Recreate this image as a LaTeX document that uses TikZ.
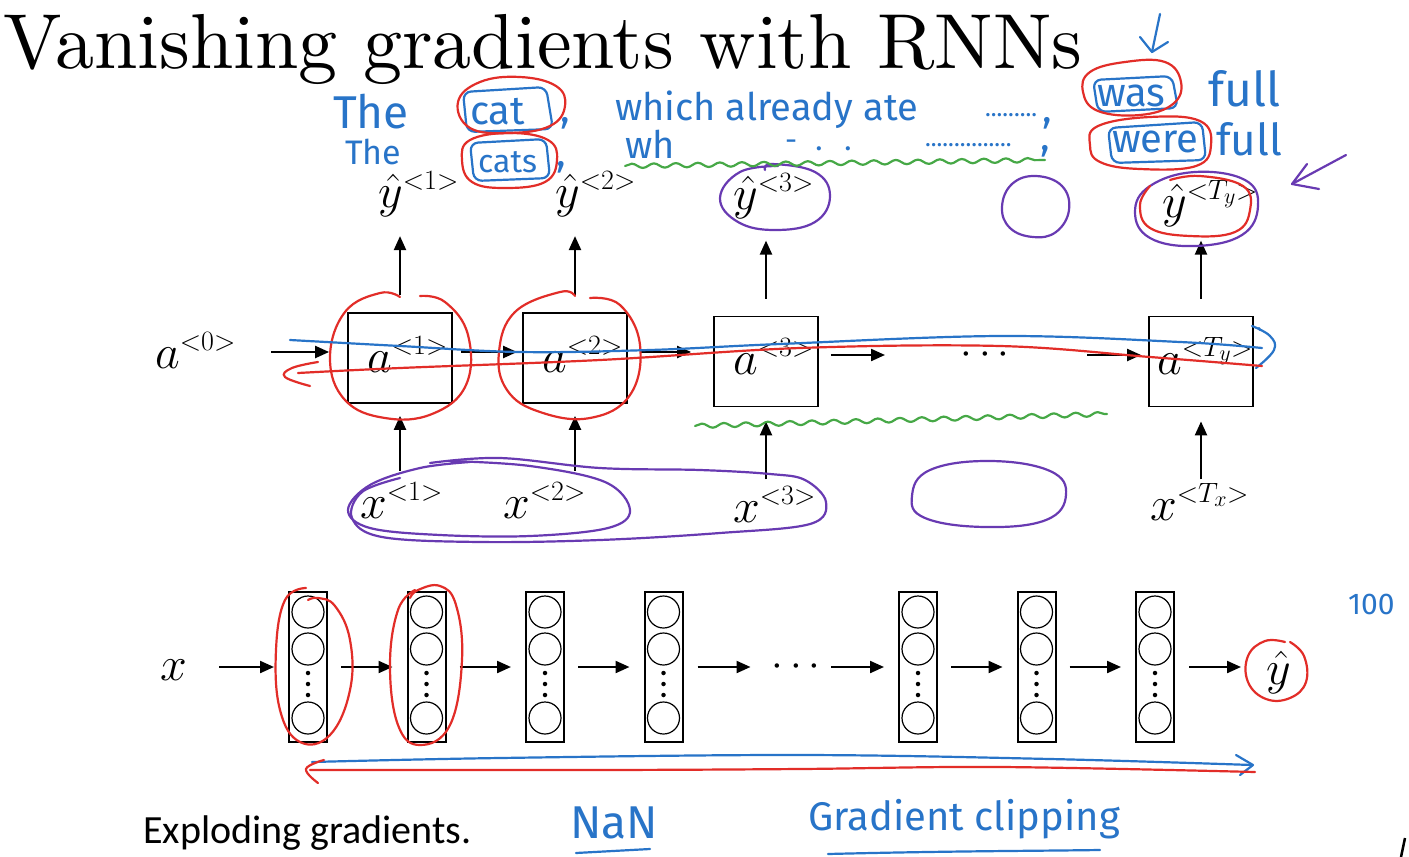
\documentclass[tikz,border=0pt]{standalone}
\usepackage{fix-cm}
\usepackage{fontspec}
\setmainfont{Latin Modern Roman}
\newfontfamily\titlefont{lmroman10-regular.otf}
\newfontfamily\handfont{Fira Sans}
\newfontfamily\calfont{Carlito}
\DeclareMathSizes{48}{48}{28}{22}
\usetikzlibrary{arrows.meta,decorations.pathmorphing,calc}
\definecolor{penblue}{RGB}{40,116,200}
\definecolor{penred}{RGB}{226,45,40}
\definecolor{penpurple}{RGB}{104,58,178}
\definecolor{pengreen}{RGB}{70,168,70}
\tikzset{
 rnnbox/.style={draw, line width=1.8pt, minimum width=104pt, minimum height=90pt, inner sep=0pt},
 colbox/.style={draw, line width=2pt, minimum width=38pt, minimum height=150pt, inner sep=0pt},
 neur/.style={circle, draw, line width=1.2pt, minimum size=32pt, inner sep=0pt},
 ndot/.style={circle, fill, minimum size=4.5pt, inner sep=0pt},
 arr/.style={line width=2.2pt, -{Triangle[length=14pt,width=12pt]}},
 lbl/.style={font=\fontsize{48}{52}\selectfont, inner sep=0pt, anchor=base west},
 pen/.style={line width=2.2pt, line cap=round, line join=round},
 bpen/.style={pen, draw=penblue},
 rpen/.style={pen, draw=penred},
 ppen/.style={pen, draw=penpurple},
 gpen/.style={pen, draw=pengreen, decorate, decoration={snake, amplitude=2.2pt, segment length=22pt}},
 hand/.style={text=penblue, inner sep=0pt, anchor=base west},
}
\newcommand{\hw}[1]{\handfont\fontsize{#1}{#1}\selectfont}
\begin{document}
\begin{tikzpicture}[x=1pt,y=-1pt]
\useasboundingbox (0,0) rectangle (1409,857);
\fill[white] (0,0) rectangle (1409,857);
\node[inner sep=0pt, anchor=base west, font=\titlefont\fontsize{78}{84}\selectfont] (title) at (3,68) {Vanishing gradients with RNNs};

% ---------- RNN top ----------
\node[rnnbox] (A1) at (400,358) {};
\node[rnnbox] (A2) at (575,358) {};
\node[rnnbox] (A3) at (766,361.5) {};
\node[rnnbox] (A4) at (1201,361.5) {};
\node[lbl] (a0) at (155,368) {$a^{<0>}$};
\node[lbl] (la1) at (367,372) {$a^{<1>}$};
\node[lbl] (la2) at (542,372) {$a^{<2>}$};
\node[lbl] (la3) at (733,374) {$a^{<3>}$};
\node[lbl] (la4) at (1157,374) {$a^{<T_y>}$};
\node[font=\fontsize{42}{48}\selectfont, inner sep=0pt] (tdots) at (985,355) {$\cdots$};

\node[lbl] (yh1) at (378,207) {$\hat{y}^{<1>}$};
\node[lbl] (yh2) at (555,207) {$\hat{y}^{<2>}$};
\node[lbl] (yh3) at (733,209) {$\hat{y}^{<3>}$};
\node[lbl] (yh4) at (1162,217) {$\hat{y}^{<T_y>}$};
\node[lbl] (x1) at (360,518) {$x^{<1>}$};
\node[lbl] (x2) at (503,518) {$x^{<2>}$};
\node[lbl] (x3) at (733,522) {$x^{<3>}$};
\node[lbl] (x4) at (1150,520) {$x^{<T_x>}$};

\draw[arr] ($(a0.east |- A1.west)+(35,-6)$) -- ($(A1.west)+(-18,-6)$);
\draw[arr] ($(A1.east)+(8,-6)$) -- ($(A2.west)+(-5,-6)$);
\draw[arr] ($(A2.east)+(13,-6)$) -- ($(A3.west |- A2.west)+(-22,-6)$);
\draw[arr] ($(A3.east)+(12,-6.5)$) -- ($(tdots)+(-100,0)$);
\draw[arr] ($(tdots)+(102,0)$) -- ($(A4.west)+(-7,-6.5)$);

\foreach \b in {A1,A2}{
  \draw[arr] ($(\b.north)+(0,-17)$) -- ($(\b.north)+(0,-76)$);
  \draw[arr] ($(\b.south)+(0,67)$) -- ($(\b.south)+(0,12)$);
}
\foreach \b in {A3,A4}{
  \draw[arr] ($(\b.north)+(0,-17)$) -- ($(\b.north)+(0,-75)$);
  \draw[arr] ($(\b.south)+(0,72)$) -- ($(\b.south)+(0,14)$);
}

% ---------- deep net bottom ----------
\foreach \n/\xx in {1/308,2/426.5,3/545,4/663.5,5/918,6/1036.5,7/1155}{
  \node[colbox] (C\n) at (\xx,667) {};
  \node[neur] (C\n a) at ($(C\n.north)+(0,21)$) {};
  \node[neur] (C\n b) at ($(C\n.north)+(0,58)$) {};
  \node[neur] (C\n c) at ($(C\n.north)+(0,127)$) {};
  \node[ndot] (C\n d1) at ($(C\n.north)+(0,82)$) {};
  \node[ndot] (C\n d2) at ($(C\n.north)+(0,93)$) {};
  \node[ndot] (C\n d3) at ($(C\n.north)+(0,104)$) {};
}
\node[lbl] (xb) at (160,680) {$x$};
\node[lbl] (yb) at (1266,684) {$\hat{y}$};
\node[font=\fontsize{42}{48}\selectfont, inner sep=0pt] (bdots) at (796,667) {$\cdots$};
\draw[arr] ($(C1.west)+(-69,0)$) -- ($(C1.west)+(-14,0)$);
\foreach \i/\j in {1/2,2/3,3/4,5/6,6/7}{
  \draw[arr] ($(C\i.east)+(13,0)$) -- ($(C\j.west)+(-14,0)$);
}
\draw[arr] ($(C4.east)+(14,0)$) -- ($(C4.east)+(67,0)$);
\draw[arr] ($(C5.west)+(-67,0)$) -- ($(C5.west)+(-14,0)$);
\draw[arr] ($(C7.east)+(14,0)$) -- ($(C7.east)+(66,0)$);

\node[inner sep=0pt, anchor=base west, font=\calfont\fontsize{40}{44}\selectfont] (expl) at (143,843) {Exploding gradients.};

% ---------- handwriting ----------
\node[hand, font=\hw{46}] (w1) at (333,128) {The};
\node[hand, font=\hw{40}] (w2) at (470,124) {cat};
\node[hand, font=\hw{40}] (w3) at (560,122) {,};
\node[hand, font=\hw{38}] (w4) at (615,120) {which already ate};
\node[hand, font=\hw{24}] (w5) at (985,116) {.........};
\node[hand, font=\hw{40}] (w6) at (1042,122) {,};
\node[hand, font=\hw{40}] (w7) at (1097,106) {was};
\node[hand, font=\hw{48}] (w8) at (1208,106) {full};
\node[hand, font=\hw{34}] (v1) at (345,164) {The};
\node[hand, font=\hw{32}] (v2) at (478,172) {cats};
\node[hand, font=\hw{40}] (v3) at (556,166) {,};
\node[hand, font=\hw{38}] (v4) at (625,158) {wh};
\node[hand, font=\hw{30}] (v5) at (785,150) {-\hspace{18pt}.\hspace{22pt}.};
\node[hand, font=\hw{24}] (v6) at (925,146) {...............};
\node[hand, font=\hw{40}] (v7) at (1040,150) {,};
\node[hand, font=\hw{40}] (v8) at (1112,152) {were};
\node[hand, font=\hw{44}] (v9) at (1216,155) {full};
\node[hand, font=\hw{30}] (h100) at (1348,614) {100};
\node[hand, font=\hw{46}] (nan) at (570,838) {NaN};
\node[hand, font=\hw{40}] (gc) at (808,830) {Gradient clipping};
\draw[bpen] (576,853) -- (650,849);
\draw[bpen] (828,854) .. controls (950,851) and (1030,851) .. (1100,850);

% boxes and circles around cat / cats / was / were
\draw[bpen, rounded corners=8pt] (463,92) -- (546,87) -- (553,129) -- (467,132) -- cycle;
\draw[rpen] plot[smooth cycle, tension=0.7] coordinates {(458,102) (480,82) (520,77) (556,86) (565,106) (550,126) (510,133) (470,128)};
\draw[bpen, rounded corners=8pt] (470,143) -- (546,139) -- (550,178) -- (474,181) -- cycle;
\draw[rpen] plot[smooth cycle, tension=0.7] coordinates {(462,160) (470,140) (510,133) (548,140) (557,160) (545,182) (505,188) (472,182)};
\draw[bpen, rounded corners=8pt] (1093,80) -- (1172,76) -- (1178,108) -- (1098,112) -- cycle;
\draw[rpen] plot[smooth cycle, tension=0.7] coordinates {(1083,92) (1090,72) (1125,62) (1165,62) (1181,82) (1173,104) (1140,115) (1098,111)};
\draw[bpen, rounded corners=8pt] (1108,128) -- (1202,122) -- (1206,160) -- (1112,163) -- cycle;
\draw[rpen] plot[smooth cycle, tension=0.7] coordinates {(1090,145) (1098,126) (1150,117) (1200,121) (1211,145) (1196,166) (1140,169) (1100,162)};

% arrows (handwritten)
\draw[bpen] (1160,14) -- (1152,52);
\draw[bpen] (1140,37) -- (1152,52) -- (1168,42);
\draw[ppen] (1346,155) -- (1292,184);
\draw[ppen] (1307,164) -- (1292,184) -- (1319,189);

% purple and red around outputs
\draw[ppen] plot[smooth, tension=0.7] coordinates {(778,166) (740,172) (720,198) (738,222) (775,230) (815,222) (830,196) (815,172) (772,164) (765,170)};
\draw[ppen] plot[smooth cycle, tension=0.7] coordinates {(1002,207) (1012,184) (1036,176) (1062,186) (1069,210) (1056,232) (1033,237) (1010,228)};
\draw[ppen] plot[smooth cycle, tension=0.7] coordinates {(1135,212) (1150,186) (1195,172) (1245,180) (1258,206) (1242,235) (1195,246) (1150,238)};
\draw[rpen] plot[smooth, tension=0.7] coordinates {(1150,186) (1140,205) (1150,228) (1190,236) (1235,232) (1250,210) (1243,186) (1200,176) (1170,180)};

% green wavy lines
\draw[gpen] (625,166) -- (1045,160);
\draw[gpen] (695,426) -- (1107,414);

% red circles around A1 and A2
\draw[rpen] plot[smooth, tension=0.7] coordinates {(420,296) (445,302) (468,335) (466,385) (432,414) (385,418) (345,400) (330,358) (345,312) (380,293) (400,297)};
\draw[rpen] plot[smooth, tension=0.7] coordinates {(590,298) (620,305) (640,345) (630,395) (590,418) (540,412) (507,390) (499,352) (515,312) (560,292) (575,296)};

% long blue / red lines through RNN
\draw[bpen] plot[smooth, tension=0.6] coordinates {(290,340) (400,346) (520,352) (650,350) (780,344) (1000,336) (1180,342) (1262,348)};
\draw[bpen] plot[smooth, tension=0.7] coordinates {(1252,326) (1270,336) (1274,350) (1256,368)};
\draw[bpen] (1259,328) -- (1260,330);
\draw[rpen] plot[smooth, tension=0.6] coordinates {(1262,366) (1150,357) (1000,346) (800,348) (600,360) (400,368) (298,373)};
\draw[rpen] plot[smooth, tension=0.7] coordinates {(318,362) (292,368) (285,377) (310,386)};

% purple around x inputs
\draw[ppen] plot[smooth, tension=0.6] coordinates {(470,462) (420,468) (370,485) (348,510) (370,528) (440,535) (530,536) (608,528) (630,510) (605,482) (530,466) (450,461)};
\draw[ppen] plot[smooth, tension=0.6] coordinates {(400,478) (362,492) (352,518) (382,537) (480,542) (600,540) (720,533) (810,524) (826,502) (805,480) (770,474) (700,470) (600,468) (500,458) (430,463)};
\draw[ppen] plot[smooth cycle, tension=0.7] coordinates {(912,496) (930,470) (990,461) (1050,471) (1066,495) (1046,520) (985,527) (925,518)};

% red ellipses around C1, C2 and output
\draw[rpen] plot[smooth, tension=0.7] coordinates {(306,588) (285,600) (276,650) (280,710) (300,742) (330,735) (350,690) (350,640) (335,606) (318,598) (308,600)};
\draw[rpen] plot[smooth, tension=0.7] coordinates {(415,590) (398,610) (390,665) (398,725) (420,745) (450,725) (462,660) (456,605) (440,586) (418,590) (410,598)};
\draw[rpen] plot[smooth, tension=0.7] coordinates {(1285,642) (1265,641) (1248,656) (1248,682) (1266,699) (1290,698) (1306,682) (1304,656) (1290,642)};

% long blue / red lines bottom
\draw[bpen] plot[smooth, tension=0.6] coordinates {(312,762) (500,758) (800,755) (1050,759) (1252,765)};
\draw[bpen] (1236,755) -- (1253,765) -- (1240,775);
\draw[rpen] plot[smooth, tension=0.6] coordinates {(1255,772) (1000,767) (800,769) (600,770) (310,770)};
\draw[rpen] plot[smooth, tension=0.7] coordinates {(324,760) (306,769) (318,783)};

% small black mark bottom right
\draw[line width=2.5pt] (1405,838) -- (1401,857);
\end{tikzpicture}
\end{document}
